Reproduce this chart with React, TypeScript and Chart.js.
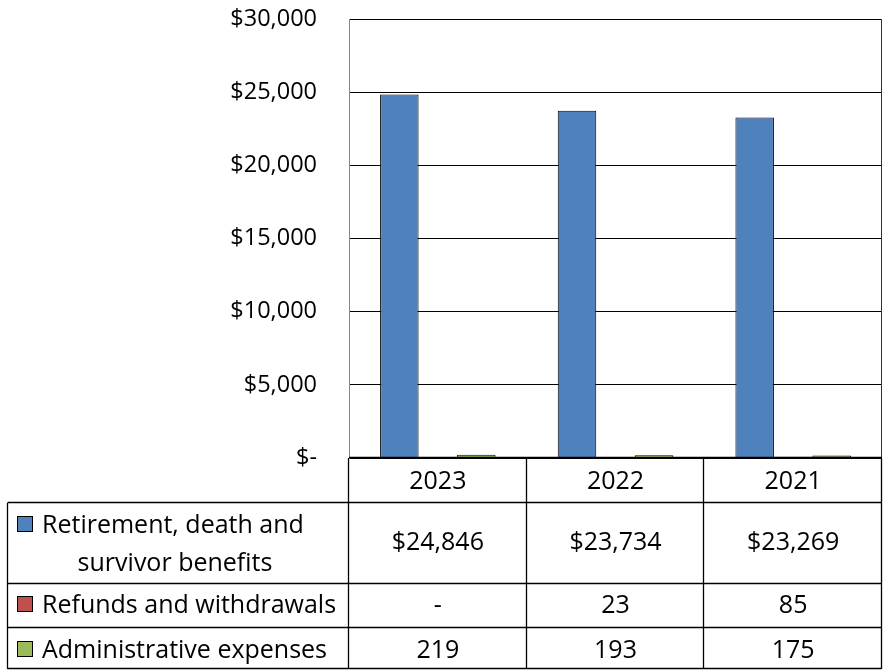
import React, { useEffect, useRef } from "react";
import { Chart, registerables } from "chart.js";

Chart.register(...registerables);

const categories = ["2023", "2022", "2021"];
const seriesNames = ["Retirement, death and survivor benefits", "Refunds and withdrawals", "Administrative expenses"];
const retirement = [24846, 23734, 23269];
const refunds: (number | null)[] = [null, 23, 85];
const admin = [219, 193, 175];
const tableRetirement = ["$24,846", "$23,734", "$23,269"];
const tableRefunds = ["-", "23", "85"];
const tableAdmin = ["219", "193", "175"];
const yTickLabels: Record<number, string> = {
  0: "$-",
  5000: "$5,000",
  10000: "$10,000",
  15000: "$15,000",
  20000: "$20,000",
  25000: "$25,000",
  30000: "$30,000",
};

const colors = ["#4F81BD", "#C0504D", "#9BBB59"];
const FONT = "'Open Sans', Lato, sans-serif";
const TABLE_FONT_SIZE = 25;
const TICK_FONT_SIZE = 23.5;

const tablePlugin = {
  id: "dataTable",
  afterDraw(chart: any) {
    const { ctx, chartArea } = chart;
    const { left, right, top, bottom } = chartArea;
    const colW = (right - left) / categories.length;
    const tableLeft = 7.5;
    const rowCat = bottom + 45;
    const row1 = rowCat + 81;
    const row2 = row1 + 44;
    const row3 = row2 + 41;
    ctx.save();
    ctx.strokeStyle = "#333";
    ctx.lineWidth = 1;
    ctx.beginPath();
    ctx.moveTo(Math.round(right) - 0.5, top);
    ctx.lineTo(Math.round(right) - 0.5, bottom);
    ctx.stroke();

    ctx.strokeStyle = "#000";
    ctx.lineWidth = 1.3;
    ctx.beginPath();
    for (let i = 0; i <= categories.length; i++) {
      const x = Math.round(left + i * colW) - 0.5;
      ctx.moveTo(x, bottom);
      ctx.lineTo(x, row3);
    }
    ctx.moveTo(tableLeft, rowCat);
    ctx.lineTo(tableLeft, row3);
    for (const y of [rowCat, row1, row2, row3]) {
      ctx.moveTo(tableLeft, Math.round(y) - 0.5);
      ctx.lineTo(Math.round(right) - 0.5, Math.round(y) - 0.5);
    }
    ctx.moveTo(left, Math.round(bottom) - 0.5);
    ctx.lineTo(right, Math.round(bottom) - 0.5);
    ctx.stroke();

    const base0 = bottom + 31;
    const base1 = rowCat + 47;
    const base2 = row1 + 29;
    const base3 = row2 + 30;

    ctx.fillStyle = "#000";
    ctx.font = `${TABLE_FONT_SIZE}px ${FONT}`;
    ctx.textBaseline = "alphabetic";
    ctx.textAlign = "center";
    categories.forEach((c, i) => {
      const cx = left + (i + 0.5) * colW;
      ctx.fillText(c, cx, base0);
      ctx.fillText(tableRetirement[i], cx, base1);
      ctx.fillText(tableRefunds[i], cx, base2);
      ctx.fillText(tableAdmin[i], cx, base3);
    });

    const keyBases = [rowCat + 30, base2, base3];
    ctx.lineWidth = 1;
    keyBases.forEach((b, i) => {
      ctx.fillStyle = colors[i];
      ctx.fillRect(17.5, b - 16.5, 15, 15);
      ctx.strokeStyle = "#000";
      ctx.strokeRect(17.5, b - 16.5, 15, 15);
    });
    ctx.fillStyle = "#000";
    ctx.textAlign = "left";
    ctx.fillText("Retirement, death and", 42, rowCat + 30);
    ctx.textAlign = "center";
    ctx.fillText("survivor benefits", 175, rowCat + 68);
    ctx.textAlign = "left";
    ctx.fillText(seriesNames[1], 42, base2);
    ctx.fillText(seriesNames[2], 42, base3);
    ctx.restore();
  },
};

export default function App() {
  const ref = useRef<HTMLCanvasElement>(null);
  useEffect(() => {
    if (!ref.current) return;
    const chart = new Chart(ref.current, {
      type: "bar",
      data: {
        labels: categories,
        datasets: [
          { label: seriesNames[0], data: retirement, backgroundColor: colors[0], borderColor: "#000", borderWidth: 1 },
          { label: seriesNames[1], data: refunds, backgroundColor: colors[1], borderColor: "#000", borderWidth: 1 },
          { label: seriesNames[2], data: admin, backgroundColor: colors[2], borderColor: "#000", borderWidth: 1 },
        ],
      },
      options: {
        responsive: false,
        animation: false,
        layout: { padding: { left: 0, right: 2, top: 19, bottom: 213 } },
        plugins: { legend: { display: false }, tooltip: { enabled: false } },
        datasets: { bar: { categoryPercentage: 0.65, barPercentage: 1.0 } },
        scales: {
          x: { display: false },
          y: {
            min: 0,
            max: 30000,
            afterFit: (s: any) => {
              s.width = 349;
              s.paddingTop = 0;
              s.paddingBottom = 0;
            },
            ticks: {
              stepSize: 5000,
              padding: 32,
              color: "#000",
              font: { family: FONT, size: TICK_FONT_SIZE },
              callback: (v: any) => yTickLabels[Number(v)] ?? "",
            },
            grid: { color: "#000", lineWidth: 1, drawTicks: false },
            border: { color: "#888", width: 1 },
          },
        },
      },
      plugins: [tablePlugin],
    });
    return () => chart.destroy();
  }, []);
  return (
    <div style={{ position: "absolute", left: 0, top: 0, width: 884, height: 671, background: "#fff" }}>
      <canvas ref={ref} width={884} height={671} style={{ width: 884, height: 671, display: "block" }} />
    </div>
  );
}
